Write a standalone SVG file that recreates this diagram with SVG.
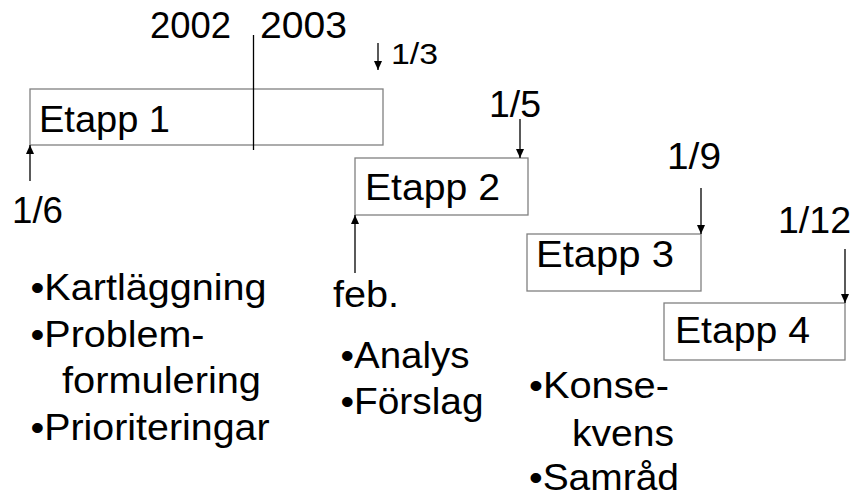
<svg xmlns="http://www.w3.org/2000/svg" width="865" height="497" viewBox="0 0 865 497">
<style>
text{font-family:"Liberation Sans",Arial,sans-serif;fill:#000;font-size:36px}
.sm{font-size:30px}
.box{fill:#fff;stroke:#808080;stroke-width:1.3}
.ln{stroke:#000;stroke-width:1.3;fill:none}
</style>
<defs>
<marker id="ah" markerWidth="10" markerHeight="10" refX="9" refY="5" orient="auto" markerUnits="userSpaceOnUse">
<path d="M0,1 L9,5 L0,9 Z" fill="#000"/>
</marker>
</defs>
<g id="etapp1">
<rect class="box" x="30" y="89" width="353" height="56"/>
<text x="39" y="132" textLength="131" lengthAdjust="spacingAndGlyphs">Etapp 1</text>
</g>
<g id="etapp2">
<rect class="box" x="355" y="158" width="173" height="57"/>
<text x="365" y="200" textLength="135" lengthAdjust="spacingAndGlyphs">Etapp 2</text>
</g>
<g id="etapp3">
<rect class="box" x="527" y="234" width="174" height="57"/>
<text x="536" y="267" textLength="138" lengthAdjust="spacingAndGlyphs">Etapp 3</text>
</g>
<g id="etapp4">
<rect class="box" x="664" y="303" width="181" height="57"/>
<text x="675" y="343" textLength="135" lengthAdjust="spacingAndGlyphs">Etapp 4</text>
</g>
<g id="labels">
<text x="150" y="38" textLength="81" lengthAdjust="spacingAndGlyphs">2002</text>
<text x="260" y="38" textLength="87" lengthAdjust="spacingAndGlyphs">2003</text>
<text class="sm" x="391" y="64" textLength="47" lengthAdjust="spacingAndGlyphs">1/3</text>
<text x="12" y="223" textLength="51" lengthAdjust="spacingAndGlyphs">1/6</text>
<text x="489" y="117" textLength="52" lengthAdjust="spacingAndGlyphs">1/5</text>
<text x="333" y="307" textLength="66" lengthAdjust="spacingAndGlyphs">feb.</text>
<text x="667" y="169" textLength="54" lengthAdjust="spacingAndGlyphs">1/9</text>
<text x="778" y="233" textLength="73" lengthAdjust="spacingAndGlyphs">1/12</text>
<text x="30.5" y="300" textLength="236" lengthAdjust="spacingAndGlyphs">•Kartläggning</text>
<text x="30.5" y="347" textLength="174" lengthAdjust="spacingAndGlyphs">•Problem-</text>
<text x="62" y="393" textLength="199" lengthAdjust="spacingAndGlyphs">formulering</text>
<text x="30.5" y="440" textLength="239" lengthAdjust="spacingAndGlyphs">•Prioriteringar</text>
<text x="340.5" y="368" textLength="129" lengthAdjust="spacingAndGlyphs">•Analys</text>
<text x="340.5" y="414" textLength="143" lengthAdjust="spacingAndGlyphs">•Förslag</text>
<text x="529" y="398" textLength="140" lengthAdjust="spacingAndGlyphs">•Konse-</text>
<text x="572" y="446" textLength="102" lengthAdjust="spacingAndGlyphs">kvens</text>
<text x="529" y="490" textLength="150" lengthAdjust="spacingAndGlyphs">•Samråd</text>
</g>
<g id="connectors">
<line class="ln" x1="253.5" y1="35" x2="253.5" y2="150"/>
<line class="ln" x1="378" y1="43" x2="378" y2="70" marker-end="url(#ah)"/>
<line class="ln" x1="30" y1="181" x2="30" y2="145" marker-end="url(#ah)"/>
<line class="ln" x1="520" y1="119" x2="520" y2="158" marker-end="url(#ah)"/>
<line class="ln" x1="355" y1="273" x2="355" y2="215" marker-end="url(#ah)"/>
<line class="ln" x1="701" y1="188" x2="701" y2="234" marker-end="url(#ah)"/>
<line class="ln" x1="845" y1="249" x2="845" y2="303" marker-end="url(#ah)"/>
</g>
</svg>
